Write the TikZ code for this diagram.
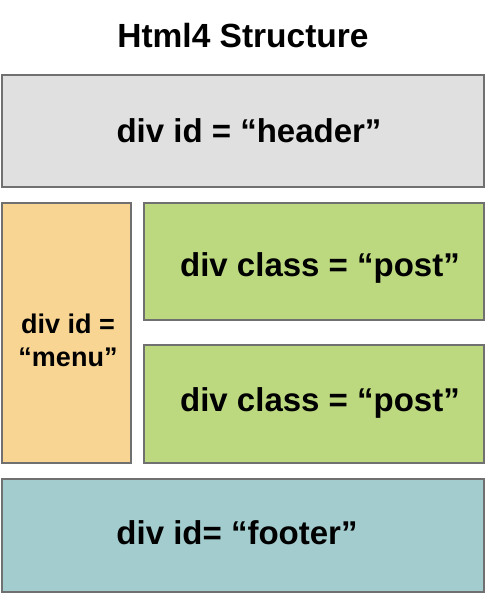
\documentclass[tikz,border=0pt]{standalone}
\usepackage{fontspec}
\setmainfont{Liberation Sans}
\definecolor{hdrfill}{HTML}{E0E0E0}
\definecolor{menufill}{HTML}{F9D594}
\definecolor{postfill}{HTML}{BCD97F}
\definecolor{footfill}{HTML}{A2CCCE}
\definecolor{edge}{HTML}{707070}
\begin{document}
\begin{tikzpicture}[x=1pt,y=-1pt,
  blk/.style={draw=edge,line width=1.5pt},
  lbl/.style={font=\fontsize{33}{38}\selectfont\bfseries,text=black,inner sep=0pt},
  mlbl/.style={font=\fontsize{27}{33}\selectfont\bfseries,text=black,align=center,inner sep=0pt}]
\useasboundingbox (0,0) rectangle (490,614);
\node[font=\fontsize{33.5}{38}\selectfont\bfseries,inner sep=0pt] (title) at (243,36) {Html4 Structure};
\draw[blk,fill=hdrfill] (2,75) rectangle (484,187);
\node[lbl] (header) at (249,131) {div id = “header”};
\draw[blk,fill=menufill] (2,203) rectangle (131,463);
\node[mlbl] (menu) at (68,340) {div id =\\“menu”};
\draw[blk,fill=postfill] (144,203) rectangle (484,320);
\node[lbl] (post1) at (320,268) {div class = “post”};
\draw[blk,fill=postfill] (144,345) rectangle (484,463);
\node[lbl] (post2) at (320,403) {div class = “post”};
\draw[blk,fill=footfill] (2,479) rectangle (484,592);
\node[lbl] (footer) at (237,533) {div id= “footer”};
\end{tikzpicture}
\end{document}
